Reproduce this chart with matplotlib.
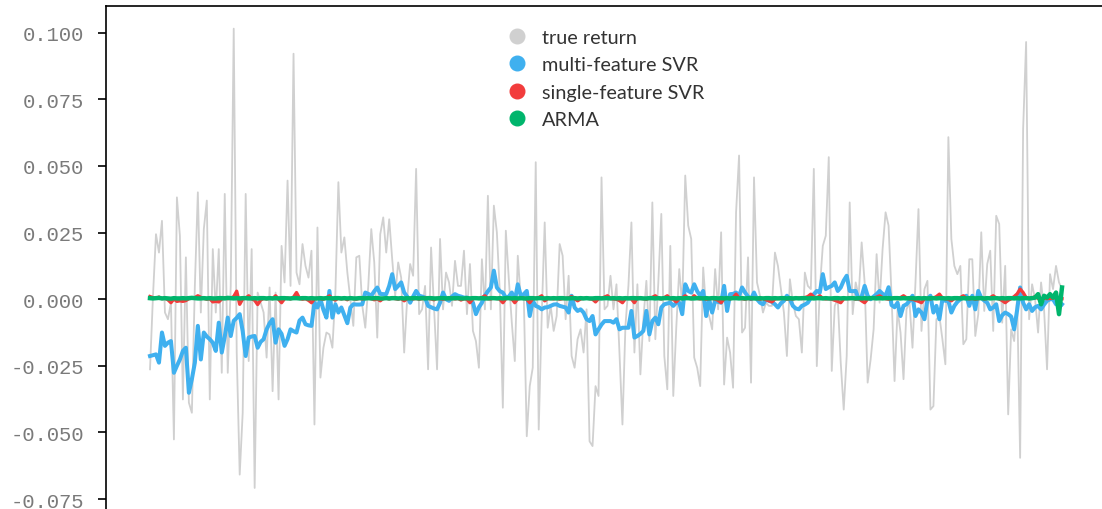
import matplotlib
matplotlib.use("Agg")
import matplotlib.pyplot as plt
from matplotlib.lines import Line2D

# ---------------- data ----------------
true_return = [
    -0.0263, 0.0013, 0.0244, 0.0175, 0.0294, -0.0050, -0.0075, -0.0013, -0.0526, 0.0382,
    0.0238, -0.0376, 0.0157, -0.0388, -0.0426, 0.0050, 0.0401, -0.0050, 0.0263, 0.0370,
    -0.0376, 0.0188, -0.0050, 0.0188, -0.0276, 0.0395, -0.0276, 0.0050, 0.1015, -0.0200,
    -0.0658, -0.0426, 0.0395, -0.0232, 0.0188, -0.0708, 0.0025, -0.0013, -0.0050, -0.0219,
    0.0044, -0.0345, 0.0025, -0.0376, 0.0200,
    0.0063, 0.0445, 0.0050, 0.0921, 0.0100, 0.0056, 0.0207, 0.0125, 0.0081, 0.0182,
    -0.0470, 0.0269, -0.0294, -0.0182, -0.0125, -0.0132, -0.0182, 0.0025, 0.0439, 0.0175,
    0.0232, 0.0100, 0.0000, -0.0100, 0.0157, 0.0163, -0.0025, -0.0107, 0.0050, 0.0263,
    0.0138, -0.0144, 0.0244, 0.0307, 0.0175, 0.0300, 0.0150, 0.0013, 0.0138, 0.0081,
    -0.0200, 0.0000, 0.0132, 0.0088, 0.0489, -0.0056, -0.0038, 0.0050, -0.0263, 0.0194,
    -0.0038, -0.0263,
    0.0226, -0.0038, 0.0100, 0.0063, -0.0025, 0.0144, 0.0050, 0.0050, 0.0182, -0.0056,
    0.0132, -0.0119, -0.0157, -0.0257, 0.0150, -0.0038, 0.0388, -0.0038, 0.0351, 0.0251,
    0.0025, -0.0407, 0.0257, 0.0075, -0.0088, -0.0232, 0.0163, 0.0000, 0.0013, -0.0514,
    -0.0326, -0.0257, 0.0514, -0.0489, -0.0063, 0.0288, -0.0107, -0.0025, -0.0119, -0.0063,
    0.0207, 0.0163, -0.0075, 0.0088, -0.0213, -0.0257, -0.0150, -0.0113,
    -0.0200, -0.0038, -0.0533, -0.0551, -0.0326, -0.0363, 0.0457, -0.0038, -0.0025, 0.0088,
    -0.0038, 0.0056, -0.0200, -0.0470, -0.0100, 0.0050, 0.0288, -0.0200, 0.0056, -0.0282,
    -0.0075, 0.0069, -0.0157, 0.0363, -0.0150, 0.0063, 0.0320, -0.0213, -0.0338, 0.0200,
    -0.0363, -0.0107, 0.0113, -0.0025, 0.0464, 0.0276, 0.0226, -0.0219, -0.0257, -0.0326,
    0.0119, -0.0038, -0.0063, -0.0113, 0.0113, -0.0038, 0.0251, -0.0320, -0.0144, -0.0200,
    -0.0332, 0.0326, 0.0539,
    -0.0125, -0.0107, 0.0157, -0.0313, 0.0457, 0.0063, 0.0013, -0.0050, -0.0013, -0.0025,
    -0.0025, 0.0175, 0.0125, 0.0038, -0.0050, -0.0213, 0.0075, -0.0013, -0.0063, -0.0075,
    -0.0200, 0.0100, 0.0050, 0.0038, 0.0489, -0.0251, 0.0038, 0.0200, 0.0238, 0.0533,
    -0.0269, -0.0025, 0.0000, -0.0238, -0.0414, -0.0213, 0.0363, -0.0056, 0.0063, 0.0013,
    0.0213, 0.0063, -0.0313, -0.0226, -0.0113, 0.0169, -0.0013, 0.0188, 0.0326, 0.0276,
    0.0013, -0.0307, -0.0038, -0.0125, -0.0300, -0.0038, -0.0013, -0.0182, 0.0063, 0.0338,
    -0.0119, 0.0038, 0.0069, -0.0414, -0.0401, -0.0075, -0.0063, -0.0150, -0.0244, 0.0608,
    0.0226, 0.0125, 0.0094, 0.0125, -0.0169, -0.0150, 0.0150, 0.0150, -0.0138, -0.0056,
    0.0251, -0.0044, 0.0132, 0.0182, -0.0119, 0.0313, 0.0282, -0.0088, 0.0125, -0.0432,
    -0.0113, -0.0157, 0.0006, -0.0595, 0.0639, 0.0965,
    -0.0075, 0.0056, 0.0000, -0.0125, 0.0063, -0.0038, -0.0263, 0.0094, 0.0038, 0.0125,
    0.0063, 0.0038,
]

multi_svr = [
    -0.0213, -0.0210, -0.0207, -0.0238, -0.0125, -0.0175, -0.0163, -0.0157, -0.0276, -0.0250,
    -0.0226, -0.0194, -0.0182, -0.0351, -0.0300, -0.0238, -0.0100, -0.0226, -0.0125, -0.0140,
    -0.0150, -0.0163, -0.0194, -0.0088, -0.0200, -0.0140, -0.0069, -0.0138, -0.0081, -0.0070,
    -0.0056, -0.0120, -0.0213, -0.0144, -0.0140, -0.0138, -0.0182, -0.0160, -0.0150, -0.0113,
    -0.0090, -0.0075, -0.0163, -0.0113, -0.0130, -0.0175, -0.0150, -0.0113, -0.0120, -0.0125,
    -0.0080, -0.0069, -0.0094, -0.0098, -0.0100, -0.0013, -0.0031, 0.0000, -0.0040, -0.0069,
    0.0031, -0.0069, -0.0019, -0.0050, -0.0031, -0.0060, -0.0090, -0.0031, -0.0019, -0.0020,
    -0.0020, -0.0019, 0.0025, 0.0020, 0.0013, 0.0030, 0.0044, 0.0020, 0.0019, 0.0019,
    0.0050, 0.0094, 0.0038, 0.0050, 0.0063, 0.0025, 0.0010, -0.0013, 0.0010, 0.0031,
    0.0013, 0.0010, 0.0006, -0.0025, -0.0030, -0.0035, -0.0038, -0.0013, 0.0025, 0.0000,
    -0.0006, 0.0010, 0.0019, 0.0013, 0.0010, 0.0006, 0.0006, 0.0000, -0.0013, -0.0056,
    -0.0030, -0.0013, 0.0013, 0.0030, 0.0044, 0.0107, 0.0044, 0.0030, 0.0025, 0.0006,
    0.0010, 0.0025, -0.0006, 0.0056, 0.0013, 0.0019, 0.0031, -0.0063, -0.0006, -0.0025,
    -0.0030, -0.0038, -0.0031, -0.0030, -0.0025, -0.0020, -0.0019, -0.0025, -0.0028, -0.0031,
    -0.0050, 0.0013, -0.0031, -0.0044, -0.0038, -0.0050, -0.0075, -0.0082, -0.0063, -0.0132,
    -0.0113, -0.0095, -0.0082, -0.0082, -0.0082, -0.0088, -0.0075, -0.0113, -0.0107, -0.0107,
    -0.0107, -0.0044, -0.0144, -0.0138, -0.0130, -0.0119, -0.0044, -0.0132, -0.0082, -0.0069,
    -0.0094, -0.0031, -0.0019, -0.0016, -0.0013, -0.0025, -0.0013, -0.0013, -0.0056, 0.0056,
    0.0031, 0.0025, 0.0056, 0.0030, 0.0013, 0.0031, -0.0063, 0.0000, -0.0050, -0.0006,
    -0.0010, -0.0013, 0.0050, -0.0044, 0.0019, 0.0020, 0.0025, 0.0013, 0.0044, 0.0025,
    0.0010, 0.0000, 0.0025, 0.0000, -0.0013, -0.0019, 0.0000, -0.0006, -0.0010, -0.0019,
    -0.0031, -0.0015, -0.0006, 0.0013, 0.0000, -0.0025, -0.0035, -0.0038, -0.0025, -0.0020,
    -0.0013, 0.0005, 0.0019, 0.0031, 0.0025, 0.0094, 0.0038, 0.0045, 0.0050, 0.0063,
    0.0031, 0.0044, 0.0070, 0.0088, 0.0031, 0.0030, 0.0031, 0.0000, 0.0010, 0.0050,
    0.0013, 0.0000, 0.0010, 0.0019, 0.0031, 0.0020, 0.0013, 0.0045, -0.0022, -0.0030,
    -0.0013, -0.0063, -0.0025, -0.0019, -0.0006, 0.0013, -0.0063, -0.0038, -0.0050, -0.0075,
    0.0000, 0.0013, -0.0050, -0.0025, -0.0075, 0.0000, -0.0006, -0.0006, -0.0050, -0.0025,
    -0.0010, 0.0000, 0.0006, 0.0013, -0.0025, 0.0013, -0.0038, 0.0031, 0.0005, -0.0005,
    -0.0013, -0.0038, -0.0031, -0.0019, -0.0082, -0.0060, -0.0050, -0.0056, -0.0065, -0.0113,
    -0.0040, 0.0044, -0.0013, -0.0038, -0.0019, -0.0044, -0.0030, -0.0025, -0.0038, -0.0020,
    -0.0006, 0.0000, 0.0000, -0.0019, -0.0010, -0.0019,
]

single_svr = [
    0.0010, 0.0006, 0.0003, 0.0008, 0.0002, 0.0004, -0.0002, -0.0013, 0.0001, -0.0008,
    -0.0006, -0.0008, -0.0005, 0.0002, 0.0004, 0.0006, 0.0013, 0.0007, 0.0003, 0.0000,
    0.0002, -0.0010, -0.0008, -0.0010, 0.0001, 0.0006, 0.0002, 0.0004, 0.0010, 0.0030,
    -0.0019, 0.0001, 0.0004, 0.0013, 0.0002, -0.0004, -0.0020, -0.0003, 0.0003, 0.0001,
    0.0004, 0.0002, 0.0013, 0.0000, -0.0013, 0.0002, 0.0005, 0.0001, 0.0008, 0.0025,
    0.0003, 0.0000, 0.0002, -0.0004, -0.0013, 0.0001, 0.0004, 0.0002, 0.0000, 0.0005,
    0.0013, 0.0002, -0.0003, 0.0004, 0.0001, 0.0003, -0.0002, 0.0005, 0.0002, 0.0000,
    0.0003, 0.0001, 0.0004, 0.0006, 0.0002, -0.0002, 0.0001, -0.0006, 0.0003, 0.0004,
    0.0001, 0.0005, 0.0002, 0.0000, 0.0003, -0.0006, 0.0002, 0.0004, 0.0001, 0.0003,
    0.0000, 0.0002, 0.0006, 0.0003, 0.0001, -0.0002, 0.0004, 0.0002, 0.0000, 0.0003,
    0.0002, 0.0005, 0.0001, 0.0003, -0.0003, 0.0002, 0.0000, -0.0013, 0.0002, 0.0004,
    0.0003, 0.0006, 0.0013, 0.0002, 0.0001, 0.0006, 0.0003, 0.0000, -0.0013, 0.0002,
    0.0004, 0.0001, -0.0013, 0.0002, 0.0003, 0.0005, 0.0000, -0.0013, 0.0002, 0.0004,
    0.0006, 0.0013, -0.0006, 0.0002, 0.0003, 0.0001, 0.0004, 0.0000, 0.0002, 0.0003,
    0.0005, 0.0010, 0.0002, -0.0006, 0.0001, 0.0003, 0.0004, 0.0002, 0.0000, -0.0010,
    0.0002, 0.0004, 0.0008, 0.0013, 0.0003, 0.0001, 0.0000, -0.0005, -0.0013, 0.0002,
    0.0004, 0.0001, -0.0013, 0.0006, 0.0003, 0.0002, 0.0000, 0.0004, 0.0007, 0.0013,
    0.0003, 0.0001, 0.0006, 0.0013, 0.0002, 0.0000, -0.0010, 0.0002, 0.0005, 0.0013,
    0.0004, 0.0002, 0.0013, 0.0003, 0.0001, 0.0004, 0.0000, 0.0002, 0.0003, 0.0001,
    -0.0004, -0.0013, 0.0002, 0.0004, 0.0001, 0.0006, 0.0019, 0.0004, 0.0002, 0.0000,
    0.0003, 0.0001, 0.0004, 0.0002, 0.0000, 0.0003, -0.0002, -0.0006, -0.0010, 0.0001,
    0.0003, 0.0002, 0.0004, 0.0000, 0.0002, 0.0001, 0.0003, 0.0005, 0.0002, 0.0006,
    0.0010, 0.0019, 0.0008, 0.0004, 0.0013, 0.0003, 0.0001, 0.0002, 0.0000, -0.0004,
    -0.0008, -0.0013, 0.0001, 0.0003, 0.0002, 0.0004, 0.0000, 0.0002, -0.0006, -0.0013,
    0.0001, 0.0003, 0.0004, 0.0008, 0.0013, 0.0006, 0.0002, 0.0000, 0.0003, 0.0004,
    0.0002, 0.0006, 0.0013, 0.0005, 0.0001, 0.0000, -0.0004, -0.0008, -0.0013, 0.0002,
    0.0003, 0.0001, 0.0004, 0.0010, 0.0019, 0.0004, 0.0002, 0.0000, -0.0006, 0.0003,
    0.0002, 0.0006, 0.0013, 0.0004, 0.0001, 0.0003, 0.0000, 0.0002, 0.0004, 0.0001,
    0.0003, 0.0006, 0.0013, 0.0004, 0.0001, -0.0005, -0.0013, -0.0004, 0.0002, 0.0010,
    0.0020, 0.0038, 0.0025, 0.0006, 0.0002, 0.0004, 0.0010, 0.0003, 0.0001, 0.0004,
    0.0002, 0.0003, 0.0004, 0.0006, 0.0003, 0.0002,
]

arma = [
    0.0004, 0.0003, 0.0004, 0.0005, 0.0003, 0.0004, 0.0003, 0.0002, 0.0004, 0.0003,
    0.0003, 0.0004, 0.0003, 0.0004, 0.0005, 0.0004, 0.0003, 0.0003, 0.0004, 0.0003,
    0.0004, 0.0003, 0.0003, 0.0004, 0.0004, 0.0003, 0.0005, 0.0004, 0.0003, 0.0004,
    0.0003, 0.0004, 0.0004, 0.0003, 0.0003, 0.0004, 0.0003, 0.0004, 0.0004, 0.0003,
    0.0004, 0.0003, 0.0004, 0.0003, 0.0004, 0.0004, 0.0003, 0.0003, 0.0004, 0.0004,
    0.0003, 0.0004, 0.0004, 0.0003, 0.0004, 0.0003, 0.0003, 0.0004, 0.0003, 0.0004,
    0.0004, 0.0003, 0.0004, 0.0004, 0.0003, 0.0004, 0.0003, 0.0004, 0.0003, 0.0003,
    0.0004, 0.0004, 0.0003, 0.0004, 0.0003, 0.0004, 0.0004, 0.0003, 0.0003, 0.0004,
    0.0003, 0.0004, 0.0004, 0.0003, 0.0004, 0.0003, 0.0004, 0.0003, 0.0004, 0.0004,
    0.0003, 0.0004, 0.0003, 0.0004, 0.0004, 0.0003, 0.0003, 0.0004, 0.0004, 0.0003,
    0.0004, 0.0003, 0.0004, 0.0004, 0.0003, 0.0003, 0.0004, 0.0003, 0.0004, 0.0004,
    0.0003, 0.0004, 0.0003, 0.0003, 0.0004, 0.0004, 0.0003, 0.0004, 0.0003, 0.0004,
    0.0004, 0.0003, 0.0004, 0.0003, 0.0004, 0.0003, 0.0003, 0.0004, 0.0004, 0.0003,
    0.0004, 0.0004, 0.0003, 0.0004, 0.0003, 0.0004, 0.0003, 0.0004, 0.0004, 0.0003,
    0.0003, 0.0004, 0.0004, 0.0003, 0.0004, 0.0003, 0.0004, 0.0003, 0.0003, 0.0004,
    0.0004, 0.0003, 0.0004, 0.0004, 0.0003, 0.0004, 0.0003, 0.0004, 0.0003, 0.0004,
    0.0003, 0.0004, 0.0004, 0.0003, 0.0004, 0.0003, 0.0003, 0.0004, 0.0004, 0.0003,
    0.0004, 0.0003, 0.0004, 0.0004, 0.0003, 0.0004, 0.0003, 0.0004, 0.0003, 0.0004,
    0.0004, 0.0003, 0.0003, 0.0004, 0.0004, 0.0003, 0.0004, 0.0003, 0.0004, 0.0004,
    0.0003, 0.0004, 0.0003, 0.0004, 0.0003, 0.0004, 0.0004, 0.0003, 0.0004, 0.0003,
    0.0004, 0.0004, 0.0003, 0.0003, 0.0004, 0.0003, 0.0004, 0.0004, 0.0003, 0.0004,
    0.0003, 0.0004, 0.0004, 0.0003, 0.0004, 0.0003, 0.0004, 0.0003, 0.0004, 0.0004,
    0.0003, 0.0004, 0.0003, 0.0004, 0.0004, 0.0003, 0.0004, 0.0003, 0.0003, 0.0004,
    0.0004, 0.0003, 0.0004, 0.0003, 0.0004, 0.0004, 0.0003, 0.0004, 0.0003, 0.0004,
    0.0003, 0.0004, 0.0004, 0.0003, 0.0004, 0.0003, 0.0004, 0.0004, 0.0003, 0.0004,
    0.0004, 0.0003, 0.0004, 0.0003, 0.0004, 0.0004, 0.0003, 0.0004, 0.0003, 0.0004,
    0.0003, 0.0004, 0.0004, 0.0003, 0.0004, 0.0004, 0.0003, 0.0004, 0.0003, 0.0004,
    0.0004, 0.0003, 0.0004, 0.0003, 0.0004, 0.0004, 0.0003, 0.0004, 0.0004, 0.0003,
    0.0004, 0.0003, 0.0004, 0.0004, 0.0003, 0.0004, 0.0003, 0.0004, 0.0004, 0.0003,
    0.0004, 0.0003, 0.0004, 0.0004, 0.0003, 0.0004,
    0.0006, 0.0019, -0.0019, 0.0013, 0.0006, 0.0019, 0.0006, 0.0025, -0.0056, 0.0044,
]

series_labels = ["true return", "multi-feature SVR", "single-feature SVR", "ARMA"]
yticks = [-0.075, -0.050, -0.025, 0.000, 0.025, 0.050, 0.075, 0.100]
ytick_labels = ["-0.075", "-0.050", "-0.025", "0.000", "0.025", "0.050", "0.075", "0.100"]

# ---------------- styling ----------------
colors = ["#d0d0d0", "#3fb0ef", "#f23c3c", "#00b56c"]
widths = [1.3, 2.9, 2.4, 3.2]

W, H = 1102, 510
fig = plt.figure(figsize=(W / 100, H / 100), dpi=100)
ax = fig.add_axes([106 / W, 0.0, 1.0 - 106 / W, 1.0 - 7 / H])

x = list(range(len(true_return)))
series = [true_return, multi_svr, single_svr, arma]
for s, c, lw, z in zip(series, colors, widths, [1, 2, 3, 4]):
    ax.plot(x[:len(s)], s, color=c, lw=lw, zorder=z, solid_joinstyle="round")

n = len(true_return)
step = (1062 - 150) / (n - 1)
ax.set_xlim(-(150 - 106) / step, (n - 1) + (1102 - 1062) / step)
ax.set_ylim(-0.0787, 0.1100)

ax.set_xticks([])
ax.set_yticks(yticks)
ax.set_yticklabels(ytick_labels, family="Liberation Mono", fontsize=14.8, color="#7a7a7a")
ax.tick_params(axis="y", direction="out", length=6, width=1.2, pad=10, color="black")

for side in ["right", "bottom"]:
    ax.spines[side].set_visible(False)
for side in ["left", "top"]:
    ax.spines[side].set_linewidth(1.2)
    ax.spines[side].set_color("black")

handles = [Line2D([], [], marker="o", linestyle="none", markersize=10.5,
                  markerfacecolor=c, markeredgecolor=c) for c in colors]
leg = fig.legend(handles, series_labels, loc="upper left",
                 bbox_to_anchor=(497 / W, 1 - 30 / H), frameon=False,
                 prop={"family": "Lato", "size": 14.3}, labelspacing=0.52,
                 handletextpad=0.25, borderpad=0, borderaxespad=0)
for t in leg.get_texts():
    t.set_color("#333333")

fig.savefig("out.png", dpi=100)
